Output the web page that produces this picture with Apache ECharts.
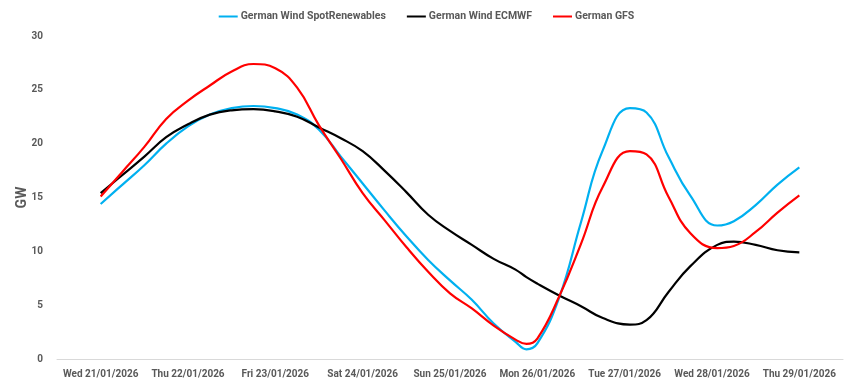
<!DOCTYPE html>
<html>
<head>
<meta charset="utf-8">
<script src="https://cdn.jsdelivr.net/npm/echarts@6/dist/echarts.min.js"></script>
<style>html,body{margin:0;padding:0;background:#fff}#c{width:853px;height:381px}</style>
</head>
<body>
<div id="c"></div>
<script>
const categories = ['Wed 21/01/2026','Thu 22/01/2026','Fri 23/01/2026','Sat 24/01/2026','Sun 25/01/2026','Mon 26/01/2026','Tue 27/01/2026','Wed 28/01/2026','Thu 29/01/2026'];
// sample times in days from the first category (6-hourly readings, plus readings at the troughs/peaks)
const times = [0,0.25,0.5,0.75,1,1.25,1.5,1.75,2,2.25,2.5,2.75,3,3.25,3.5,3.75,4,4.25,4.5,4.75,4.875,5,5.25,5.5,5.75,6.06,6.25,6.5,6.75,7.06,7.25,7.5,7.75,8];
const spotRenewables = [14.4,16.2,18.0,20.0,21.6,22.7,23.3,23.5,23.3,22.7,21.3,18.8,16.3,13.8,11.4,9.2,7.3,5.5,3.3,1.6,0.9,1.45,5.7,12.7,19.4,23.3,22.9,18.8,15.2,12.4,12.8,14.3,16.2,17.8];
const ecmwf = [15.4,17.1,18.8,20.6,21.8,22.7,23.1,23.2,23.0,22.5,21.5,20.5,19.3,17.5,15.5,13.4,11.9,10.6,9.3,8.3,7.6,7.0,5.9,4.9,3.8,3.2,3.6,6.2,8.6,10.6,10.9,10.6,10.1,9.9];
const gfs = [15.1,17.4,19.7,22.3,24.0,25.4,26.7,27.4,27.0,25.2,21.7,18.6,15.4,12.9,10.4,8.1,6.1,4.7,3.1,1.8,1.4,1.9,5.8,10.7,16.0,19.3,19.0,15.1,11.7,10.3,10.5,11.8,13.6,15.2];
const seriesNames = ['German Wind SpotRenewables','German Wind ECMWF','German GFS'];

const pair = arr => arr.map((v,i)=>[times[i], v]);
const txt = '#595959';
const font = 'Roboto, "DejaVu Sans", sans-serif';
const chart = echarts.init(document.getElementById('c'), null, {renderer:'canvas'});
chart.setOption({
  animation:false,
  backgroundColor:'#fff',
  textStyle:{fontFamily:font},
  legend:{
    top:6, left:'center', itemWidth:19, itemHeight:2, itemGap:21,
    icon:'rect',
    textStyle:{color:txt, fontSize:10.5, fontWeight:'bold', fontFamily:font, padding:[0,0,0,-2]},
    data:seriesNames
  },
  grid:{left:57, right:10, top:36, bottom:22, containLabel:false},
  xAxis:[
    {type:'category', data:categories, boundaryGap:true,
     axisLine:{show:true, lineStyle:{color:'#d9d9d9'}}, axisTick:{show:false},
     axisLabel:{color:txt, fontSize:10, fontWeight:'bold', margin:10, interval:0, fontFamily:font}},
    {type:'value', min:-0.5, max:8.5, show:false}
  ],
  yAxis:{type:'value', min:0, max:30, interval:5,
    name:'GW', nameLocation:'middle', nameGap:28, nameRotate:90, nameMoveOverlap:false,
    nameTextStyle:{color:txt, fontSize:14, fontWeight:'bold', fontFamily:font},
    axisLine:{show:false}, axisTick:{show:false}, splitLine:{show:false},
    axisLabel:{color:txt, fontSize:10, fontWeight:'bold', margin:14, fontFamily:font}},
  series:[
    {name:seriesNames[0], type:'line', xAxisIndex:1, data:pair(spotRenewables), smooth:0.45, showSymbol:false, lineStyle:{color:'#00B0F0', width:2.2}, itemStyle:{color:'#00B0F0'}},
    {name:seriesNames[1], type:'line', xAxisIndex:1, data:pair(ecmwf), smooth:0.45, showSymbol:false, lineStyle:{color:'#000000', width:2.2}, itemStyle:{color:'#000000'}},
    {name:seriesNames[2], type:'line', xAxisIndex:1, data:pair(gfs), smooth:0.45, showSymbol:false, lineStyle:{color:'#FF0000', width:2.2}, itemStyle:{color:'#FF0000'}}
  ]
});
</script>
</body>
</html>
